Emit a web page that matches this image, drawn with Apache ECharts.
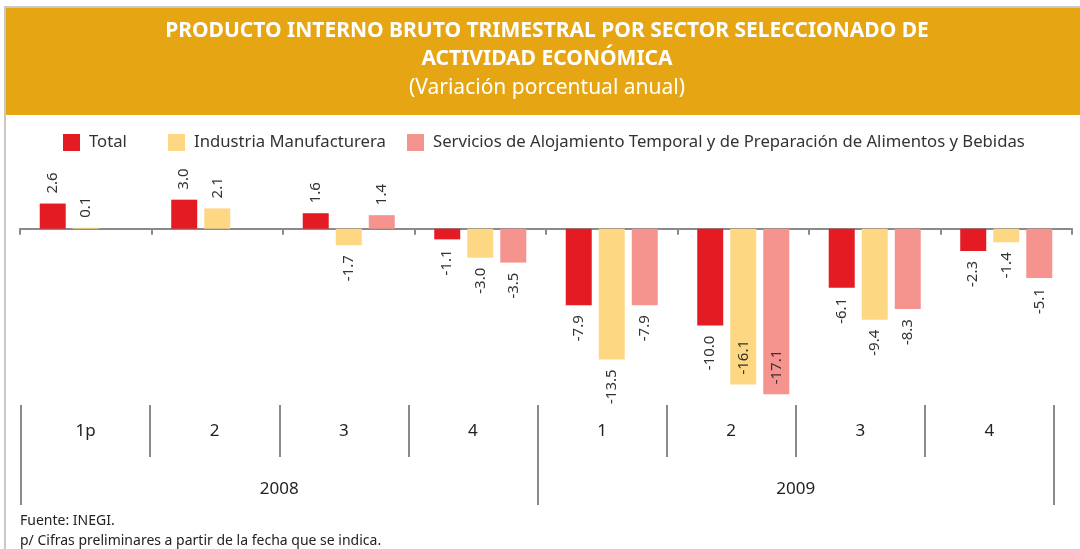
<!DOCTYPE html>
<html>
<head>
    <meta charset="utf-8">
    <title>PIB trimestral por sector</title>
    <script src="https://cdn.jsdelivr.net/npm/echarts@6.0.0/dist/echarts.min.js"></script>
    <style>
        html, body { margin: 0; padding: 0; background: #fff; }
        #main { width: 1080px; height: 549px; }
    </style>
</head>
<body>
    <div id="main"></div>
    <script>
        var quarters = ['1p', '2', '3', '4', '1', '2', '3', '4'];
        var years = ['2008', '2009'];
        var seriesNames = ['Total', 'Industria Manufacturera',
            'Servicios de Alojamiento Temporal y de Preparación de Alimentos y Bebidas'];
        var total = [2.6, 3.0, 1.6, -1.1, -7.9, -10.0, -6.1, -2.3];
        var industria = [0.1, 2.1, -1.7, -3.0, -13.5, -16.1, -9.4, -1.4];
        var servicios = [null, null, 1.4, -3.5, -7.9, -17.1, -8.3, -5.1];
        var colors = ['#E41B23', '#FED783', '#F5938F'];

        var font = '"Noto Sans", "Open Sans", sans-serif';
        var myChart = echarts.init(document.getElementById('main'));

        // label above positive bars, below negative ones (inside when bar is very long)
        function withLabels(arr) {
            return arr.map(function (v) {
                if (v === null) return '-';
                var pos, align;
                if (v >= 0) { pos = 'top'; align = 'left'; }
                else if (v < -15) { pos = 'insideBottom'; align = 'left'; }
                else { pos = 'bottom'; align = 'right'; }
                return { value: v, label: { position: pos, align: align } };
            });
        }

        function makeSeries(name, arr, color) {
            return {
                name: name,
                type: 'bar',
                xAxisIndex: 0,
                yAxisIndex: 0,
                barWidth: 26,
                barGap: '27%',
                itemStyle: { color: color },
                label: {
                    show: true,
                    rotate: 90,
                    distance: 10,
                    verticalAlign: 'middle',
                    fontFamily: font,
                    fontSize: 15,
                    color: '#333',
                    formatter: function (p) { return p.value.toFixed(1); }
                },
                data: withLabels(arr)
            };
        }

        function makeLegend(name, left) {
            return {
                left: left,
                top: 129,
                itemWidth: 17,
                itemHeight: 17,
                icon: 'rect',
                textStyle: { fontFamily: font, fontSize: 16.7, color: '#333', padding: [0, 0, 0, 4] },
                data: [name]
            };
        }

        var option = {
            animation: false,
            backgroundColor: '#fff',
            graphic: [
                { type: 'rect', shape: { x: 5, y: 7, width: 1080, height: 560 },
                  style: { fill: 'none', stroke: '#c8c8c8', lineWidth: 2 } },
                { type: 'rect', shape: { x: 6, y: 8, width: 1074, height: 107 },
                  style: { fill: '#E6A614' } },
                { type: 'text', x: 547, y: 31,
                  style: { text: 'PRODUCTO INTERNO BRUTO TRIMESTRAL POR SECTOR SELECCIONADO DE',
                           fill: '#fff', font: 'bold 21px ' + font, textAlign: 'center', textVerticalAlign: 'middle' } },
                { type: 'text', x: 547, y: 59,
                  style: { text: 'ACTIVIDAD ECONÓMICA',
                           fill: '#fff', font: 'bold 21px ' + font, textAlign: 'center', textVerticalAlign: 'middle' } },
                { type: 'text', x: 547, y: 88,
                  style: { text: '(Variación porcentual anual)',
                           fill: '#fff', font: '21px ' + font, textAlign: 'center', textVerticalAlign: 'middle' } },
                { type: 'text', x: 20, y: 521,
                  style: { text: 'Fuente: INEGI.', fill: '#222', font: '14px ' + font, textVerticalAlign: 'middle' } },
                { type: 'text', x: 20, y: 541,
                  style: { text: 'p/ Cifras preliminares a partir de la fecha que se indica.', fill: '#222',
                           font: '14px ' + font, textVerticalAlign: 'middle' } }
            ],
            legend: [
                makeLegend(seriesNames[0], 58),
                makeLegend(seriesNames[1], 163),
                makeLegend(seriesNames[2], 402)
            ],
            grid: [
                { left: 20, right: 8, top: 190, height: 213 },
                { left: 21, right: 26, top: 300, height: 105 },
                { left: 21, right: 26, top: 300, height: 105 }
            ],
            xAxis: [
                {
                    type: 'category', gridIndex: 0, data: quarters,
                    axisLine: { onZero: true, lineStyle: { color: '#8a8a8a', width: 2 } },
                    axisTick: { show: true, length: 6, lineStyle: { color: '#8a8a8a', width: 2 } },
                    axisLabel: { show: false }
                },
                {
                    type: 'category', gridIndex: 1, position: 'bottom', data: quarters,
                    axisLine: { show: false },
                    axisTick: { show: true, interval: 0, length: 52, inside: false,
                                lineStyle: { color: '#8a8a8a', width: 2 } },
                    axisLabel: { margin: 18, fontFamily: font, fontSize: 17, color: '#222' }
                },
                {
                    type: 'category', gridIndex: 2, position: 'bottom', data: years,
                    axisLine: { show: false },
                    axisTick: { show: true, interval: 0, length: 100,
                                lineStyle: { color: '#8a8a8a', width: 2 } },
                    axisLabel: { margin: 76, fontFamily: font, fontSize: 17, color: '#222' }
                }
            ],
            yAxis: [
                { type: 'value', gridIndex: 0, min: -18, max: 4, show: false, splitLine: { show: false } },
                { type: 'value', gridIndex: 1, show: false, splitLine: { show: false } },
                { type: 'value', gridIndex: 2, show: false, splitLine: { show: false } }
            ],
            series: [
                makeSeries(seriesNames[0], total, colors[0]),
                makeSeries(seriesNames[1], industria, colors[1]),
                makeSeries(seriesNames[2], servicios, colors[2])
            ]
        };

        myChart.setOption(option);
    </script>
</body>
</html>
